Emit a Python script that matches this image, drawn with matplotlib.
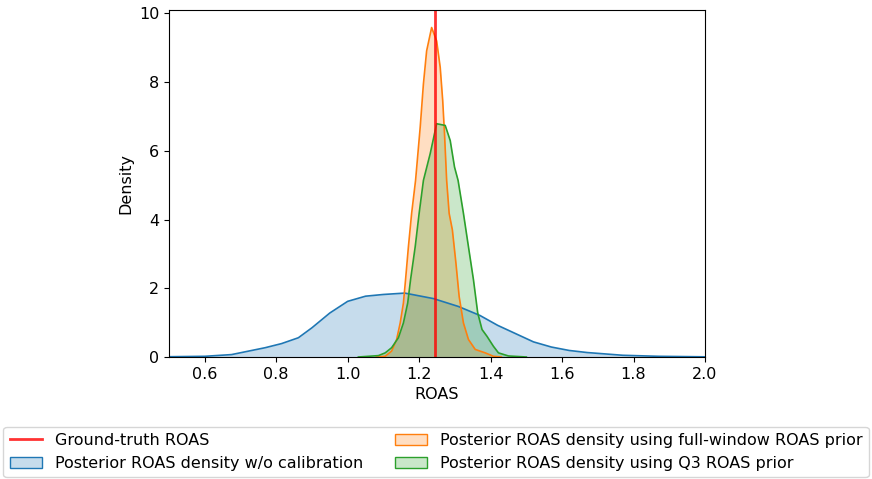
import matplotlib
matplotlib.use("Agg")
import matplotlib.pyplot as plt
from matplotlib.patches import Patch
from matplotlib.lines import Line2D

plt.rcParams["font.size"] = 11.5

ground_truth = 1.243

blue_x = [0.45, 0.50, 0.60, 0.675, 0.722, 0.769, 0.815, 0.862, 0.90, 0.95, 1.00, 1.05, 1.10,
          1.16, 1.24, 1.31, 1.37, 1.42, 1.47, 1.52, 1.57, 1.62, 1.67, 1.77, 1.87, 2.00, 2.05]
blue_y = [0.002, 0.008, 0.02, 0.07, 0.17, 0.27, 0.39, 0.56, 0.85, 1.28, 1.62, 1.77, 1.82,
          1.86, 1.70, 1.47, 1.21, 0.92, 0.68, 0.44, 0.29, 0.19, 0.13, 0.05, 0.02, 0.005, 0.002]

orange_x = [1.08, 1.105, 1.123, 1.137, 1.147, 1.156, 1.162, 1.170, 1.179, 1.190, 1.203,
            1.212, 1.221, 1.235, 1.249, 1.259, 1.266, 1.271, 1.277, 1.284, 1.293, 1.303,
            1.312, 1.324, 1.338, 1.357, 1.385, 1.408, 1.43]
orange_y = [0.0, 0.02, 0.17, 0.51, 0.99, 1.57, 2.25, 3.21, 4.18, 5.14, 6.69,
            7.95, 8.91, 9.59, 9.2, 8.43, 7.46, 6.5, 5.14, 4.18, 3.7, 2.73,
            1.76, 0.99, 0.51, 0.22, 0.12, 0.02, 0.0]

green_x = [1.03, 1.086, 1.105, 1.123, 1.142, 1.156, 1.168, 1.176, 1.189, 1.200, 1.212,
           1.231, 1.249, 1.273, 1.287, 1.299, 1.309, 1.324, 1.338, 1.352, 1.364, 1.376,
           1.390, 1.408, 1.422, 1.45, 1.50]
green_y = [0.0, 0.04, 0.12, 0.27, 0.56, 0.99, 1.57, 2.25, 3.21, 4.18, 5.14,
           5.92, 6.79, 6.74, 6.30, 5.53, 5.14, 4.18, 3.21, 2.25, 1.28, 0.8,
           0.6, 0.31, 0.12, 0.03, 0.0]

labels = ["Ground-truth ROAS",
          "Posterior ROAS density w/o calibration",
          "Posterior ROAS density using full-window ROAS prior",
          "Posterior ROAS density using Q3 ROAS prior"]
c_blue, c_orange, c_green = "#1f77b4", "#ff7f0e", "#2ca02c"

fig = plt.figure(figsize=(8.72, 4.79), dpi=100)
ax = fig.add_axes([0.1938, 0.2547, 0.6147, 0.7244])

for xs, ys, c in [(blue_x, blue_y, c_blue), (orange_x, orange_y, c_orange), (green_x, green_y, c_green)]:
    ax.fill_between(xs, ys, 0, color=c, alpha=0.25, lw=0)
    ax.plot(xs, ys, color=c, lw=1.2)

ax.axvline(ground_truth, color="red", alpha=0.8, lw=2)

ax.set_xlim(0.5, 2.0)
ax.set_ylim(0, 10.1)
ax.set_xlabel("ROAS")
ax.set_ylabel("Density")

handles = [Line2D([], [], color="red", alpha=0.8, lw=2),
           Patch(facecolor=(0.122, 0.467, 0.706, 0.25), edgecolor=c_blue),
           Patch(facecolor=(1.0, 0.498, 0.055, 0.25), edgecolor=c_orange),
           Patch(facecolor=(0.173, 0.627, 0.173, 0.25), edgecolor=c_green)]
fig.legend(handles, labels, loc="lower center", bbox_to_anchor=(0.5, 0.0),
           ncol=2, borderaxespad=0.1, fontsize=11.5)

fig.savefig("out.png", dpi=100)
